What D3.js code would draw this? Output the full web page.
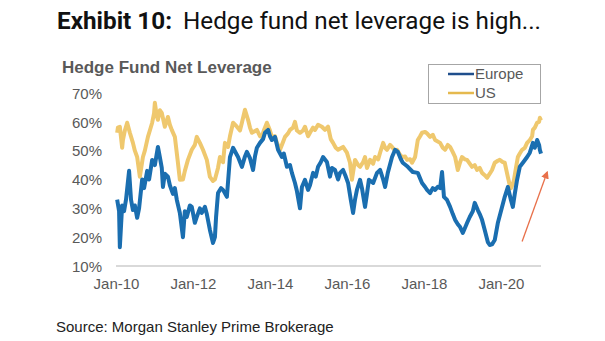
<!DOCTYPE html>
<html>
<head>
<meta charset="utf-8">
<script src="https://cdn.jsdelivr.net/npm/d3@7"></script>
<style>
    body { margin: 0; background: #fff; }
    svg { display: block; }
</style>
</head>
<body>
<div id="chart"></div>
<script>
var WIDTH = 605;
var HEIGHT = 341;

// Series: time as decimal years, values in percent.
var europeTimes = [
    2010.03, 2010.08, 2010.10, 2010.16, 2010.21, 2010.26, 2010.34, 2010.39, 2010.44, 2010.49,
    2010.55, 2010.60, 2010.68, 2010.73, 2010.81, 2010.86, 2010.94, 2011.01, 2011.09, 2011.14,
    2011.19, 2011.22, 2011.27, 2011.35, 2011.40, 2011.48, 2011.53, 2011.58, 2011.66, 2011.74,
    2011.79, 2011.84, 2011.92, 2011.97, 2012.05, 2012.10, 2012.18, 2012.23, 2012.31, 2012.36,
    2012.44, 2012.52, 2012.57, 2012.60, 2012.65, 2012.73, 2012.78, 2012.88, 2012.96, 2013.04,
    2013.12, 2013.17, 2013.27, 2013.35, 2013.40, 2013.48, 2013.56, 2013.61, 2013.66, 2013.74,
    2013.82, 2013.87, 2013.95, 2014.00, 2014.05, 2014.13, 2014.21, 2014.31, 2014.36, 2014.44,
    2014.52, 2014.57, 2014.65, 2014.70, 2014.78, 2014.83, 2014.91, 2014.99, 2015.04, 2015.12,
    2015.19, 2015.25, 2015.32, 2015.38, 2015.48, 2015.56, 2015.61, 2015.69, 2015.77, 2015.82,
    2015.90, 2015.97, 2016.03, 2016.10, 2016.16, 2016.21, 2016.26, 2016.34, 2016.39, 2016.47,
    2016.52, 2016.57, 2016.68, 2016.78, 2016.86, 2016.94, 2016.99, 2017.06, 2017.17, 2017.25,
    2017.32, 2017.40, 2017.45, 2017.58, 2017.71, 2017.84, 2017.95, 2018.03, 2018.08, 2018.16,
    2018.23, 2018.29, 2018.36, 2018.42, 2018.47, 2018.52, 2018.60, 2018.68, 2018.75, 2018.81,
    2018.88, 2018.94, 2019.01, 2019.06, 2019.12, 2019.19, 2019.27, 2019.32, 2019.40, 2019.45,
    2019.51, 2019.58, 2019.66, 2019.71, 2019.77, 2019.84, 2019.92, 2020.03, 2020.10, 2020.18,
    2020.26, 2020.31, 2020.36, 2020.42, 2020.49, 2020.57, 2020.68, 2020.75, 2020.83, 2020.88,
    2020.94, 2020.99, 2021.01, 2021.04
];
var europeValues = [
    33, 29, 16.5, 31, 29, 33, 43, 33, 29.4, 31,
    26.7, 30, 40, 37, 43, 40, 46.8, 45, 51.3, 47.8,
    44, 37.4, 42, 41, 38, 35, 37, 33, 28.4, 20,
    29, 27, 31, 30.5, 25, 27, 30, 28.4, 30.5, 28,
    22.5, 18, 20, 27, 35.3, 37, 36.4, 34, 47.8, 51,
    49, 47.8, 44.4, 48, 49.6, 47.4, 43.3, 48, 51, 52.7,
    54, 56.2, 57.2, 55, 53.7, 54.8, 50.3, 47.8, 49, 44.4,
    45, 42.3, 38.8, 36, 30, 37.4, 39.9, 36.4, 38, 42.3,
    41, 44.4, 46, 47.8, 46.1, 41, 44, 43.3, 40, 42.3,
    43.3, 41, 38.8, 33, 28.4, 33, 36.4, 39.9, 37, 30.5,
    35, 39.9, 38.8, 42.3, 43.3, 40, 37.4, 42.3, 47.8, 50.3,
    49.6, 47, 45.8, 44.4, 42.6, 42.3, 38.8, 37.4, 36.4, 35.3,
    37, 36.4, 37.5, 37, 42.6, 34, 32.9, 30.5, 28, 26,
    24.5, 23.5, 21.5, 23, 24.9, 27, 29, 31.9, 29.4, 28,
    26, 22.5, 18.3, 17.3, 17.5, 19, 24.9, 30.5, 34, 37.4,
    32.9, 30.5, 35, 39.9, 44.4, 45.8, 47.8, 49.3, 52.7, 51,
    53.7, 52, 50.3, 49
];

var usTimes = [
    2010.03, 2010.05, 2010.10, 2010.16, 2010.18, 2010.23, 2010.29, 2010.36, 2010.44, 2010.49,
    2010.55, 2010.62, 2010.70, 2010.75, 2010.83, 2010.88, 2010.94, 2010.99, 2011.01, 2011.06,
    2011.09, 2011.14, 2011.19, 2011.27, 2011.35, 2011.40, 2011.45, 2011.53, 2011.61, 2011.66,
    2011.74, 2011.79, 2011.87, 2011.97, 2012.05, 2012.10, 2012.18, 2012.26, 2012.36, 2012.44,
    2012.52, 2012.57, 2012.65, 2012.70, 2012.78, 2012.83, 2012.91, 2012.96, 2013.04, 2013.14,
    2013.22, 2013.27, 2013.35, 2013.43, 2013.48, 2013.53, 2013.66, 2013.74, 2013.79, 2013.84,
    2013.92, 2014.00, 2014.05, 2014.13, 2014.18, 2014.26, 2014.34, 2014.39, 2014.47, 2014.52,
    2014.60, 2014.65, 2014.70, 2014.78, 2014.86, 2014.91, 2014.99, 2015.04, 2015.12, 2015.17,
    2015.25, 2015.35, 2015.43, 2015.51, 2015.58, 2015.64, 2015.71, 2015.77, 2015.90, 2016.00,
    2016.08, 2016.13, 2016.21, 2016.29, 2016.34, 2016.42, 2016.47, 2016.52, 2016.60, 2016.68,
    2016.73, 2016.81, 2016.86, 2016.94, 2016.99, 2017.04, 2017.12, 2017.17, 2017.25, 2017.30,
    2017.38, 2017.43, 2017.51, 2017.56, 2017.64, 2017.69, 2017.77, 2017.84, 2017.90, 2017.95,
    2018.03, 2018.08, 2018.16, 2018.23, 2018.29, 2018.42, 2018.49, 2018.55, 2018.62, 2018.68,
    2018.75, 2018.81, 2018.88, 2018.94, 2018.99, 2019.06, 2019.12, 2019.19, 2019.25, 2019.32,
    2019.38, 2019.45, 2019.51, 2019.58, 2019.64, 2019.71, 2019.77, 2019.84, 2019.92, 2019.97,
    2020.05, 2020.10, 2020.18, 2020.23, 2020.26, 2020.31, 2020.34, 2020.39, 2020.44, 2020.49,
    2020.55, 2020.62, 2020.68, 2020.75, 2020.81, 2020.83, 2020.88, 2020.94, 2020.99, 2021.01,
    2021.04
];
var usValues = [
    56.2, 58, 58.3, 51, 53.7, 57, 59.7, 56.2, 52.7, 50,
    47.8, 41, 47.8, 50, 54.8, 57, 59.7, 63, 66.6, 62,
    60.7, 64, 63.1, 58.3, 61.7, 59, 57.2, 54.8, 45.8, 39.9,
    40, 43, 46.8, 50.3, 52, 54.8, 52.7, 50.3, 46.8, 40.9,
    39.5, 40, 44, 47.8, 46, 52.7, 51.3, 55, 59.7, 58.3,
    57, 59.7, 64.2, 60.7, 58, 56.2, 57.2, 55, 54.8, 57,
    59.7, 57, 54.8, 55, 52.7, 50.3, 53, 54.8, 56, 57.2,
    58, 60, 57, 56.2, 57, 58.3, 55, 56.2, 58, 57.2,
    59, 58.3, 57.2, 58.3, 54, 52.7, 51, 50.3, 51.3, 49.3,
    45.8, 39.9, 46.8, 45, 44.4, 46, 47.8, 44, 46.8, 45.5,
    47.8, 47, 49.3, 52.7, 51, 50.3, 52, 51.3, 50, 50.3,
    48.5, 47.8, 48, 46.8, 47, 45.8, 47.8, 53.7, 55, 56.2,
    56.5, 56, 54.8, 55.5, 53.7, 52.7, 51, 50.3, 52, 51.3,
    49.5, 47.8, 43.3, 46, 47.8, 47, 46.8, 45.5, 44.4, 45,
    43.3, 44, 42.3, 41.5, 40.6, 42, 43.3, 45.8, 46.5, 46.8,
    46, 45.8, 40.9, 38, 37, 38.5, 39.9, 44, 47.8, 49,
    50.3, 51, 52.7, 53.7, 55, 57.2, 58, 59.7, 60, 61.4,
    60.5
];

var seriesNames = ['Europe', 'US'];
var yTickValues = [10, 20, 30, 40, 50, 60, 70];
var xTickYears = [2010, 2012, 2014, 2016, 2018, 2020];

var EUROPE_COLOR = '#1a6eb0';
var US_COLOR = '#efc86e';
var TEXT_GREY = '#595959';

/**
 * Turns a decimal year (e.g. 2013.5) into a Date.
 * @param  {number} t
 * @return {Date}
 */
var toDate = function toDate(t) {
    var year = Math.floor(t);
    var start = new Date(year, 0, 1);
    var end = new Date(year + 1, 0, 1);
    return new Date(start.getTime() + (t - year) * (end - start));
};

var zip = function zip(times, values) {
    return times.map(function(t, i) {
        return { date: toDate(t), value: values[i] };
    });
};

var drawChart = function drawChart(el) {
    var svg = d3.select(el)
        .html('')
        .append('svg')
        .attr('width', WIDTH)
        .attr('height', HEIGHT);

    // Titles
    var title = svg.append('g')
        .style('font-family', 'Roboto, sans-serif')
        .style('font-size', '23px')
        .style('fill', '#111');
    title.append('text')
        .attr('x', 57)
        .attr('y', 29)
        .attr('textLength', 115)
        .attr('lengthAdjust', 'spacingAndGlyphs')
        .style('font-weight', 'bold')
        .text('Exhibit 10:');
    title.append('text')
        .attr('x', 183)
        .attr('y', 29)
        .attr('textLength', 358)
        .attr('lengthAdjust', 'spacingAndGlyphs')
        .style('font-size', '24px')
        .text('Hedge fund net leverage is high...');

    svg.append('text')
        .attr('x', 62)
        .attr('y', 73)
        .style('font-family', '"Liberation Sans", Arial, sans-serif')
        .style('font-size', '17px')
        .style('font-weight', 'bold')
        .style('fill', TEXT_GREY)
        .text('Hedge Fund Net Leverage');

    // Scales
    var x = d3.scaleTime()
        .domain([toDate(2010), toDate(2021.04)])
        .range([116, 541]);

    var y = d3.scaleLinear()
        .domain([10, 70])
        .range([266, 93]);

    // Y axis labels, no line
    var yAxis = d3.axisLeft(y)
        .tickValues(yTickValues)
        .tickSize(0)
        .tickPadding(0)
        .tickFormat(function(d) { return d + '%'; });

    var yg = svg.append('g')
        .attr('transform', 'translate(102,0)')
        .call(yAxis);
    yg.select('.domain').remove();
    yg.selectAll('text')
        .attr('dy', '0.35em')
        .style('font-family', '"Liberation Sans", Arial, sans-serif')
        .style('font-size', '15px')
        .style('fill', TEXT_GREY);

    // X axis: grey baseline with year labels
    var xAxis = d3.axisBottom(x)
        .tickValues(xTickYears.map(function(yr) { return toDate(yr); }))
        .tickSize(0)
        .tickPadding(12)
        .tickFormat(d3.timeFormat('Jan-%y'));

    var xg = svg.append('g')
        .attr('transform', 'translate(0,266)')
        .call(xAxis);
    xg.select('.domain')
        .attr('d', 'M116,0H541')
        .style('stroke', '#d9d9d9')
        .style('stroke-width', 2);
    xg.selectAll('text')
        .style('font-family', '"Liberation Sans", Arial, sans-serif')
        .style('font-size', '15px')
        .style('fill', TEXT_GREY);

    // Lines
    var line = d3.line()
        .x(function(d) { return x(d.date); })
        .y(function(d) { return y(d.value); });

    svg.append('path')
        .datum(zip(usTimes, usValues))
        .attr('d', line)
        .style('fill', 'none')
        .style('stroke', US_COLOR)
        .style('stroke-width', 4)
        .style('stroke-linejoin', 'round');

    svg.append('path')
        .datum(zip(europeTimes, europeValues))
        .attr('d', line)
        .style('fill', 'none')
        .style('stroke', EUROPE_COLOR)
        .style('stroke-width', 4)
        .style('stroke-linejoin', 'round');

    // Red annotation arrow
    var defs = svg.append('defs');
    defs.append('marker')
        .attr('id', 'arrowhead')
        .attr('viewBox', '0 0 10 10')
        .attr('refX', 8)
        .attr('refY', 5)
        .attr('markerWidth', 6)
        .attr('markerHeight', 6)
        .attr('orient', 'auto')
        .append('path')
        .attr('d', 'M0,0L10,5L0,10z')
        .style('fill', '#e8704a');

    svg.append('line')
        .attr('x1', x(toDate(2020.55)))
        .attr('y1', y(18.5))
        .attr('x2', x(toDate(2021.2)))
        .attr('y2', y(42.5))
        .style('stroke', '#e8704a')
        .style('stroke-width', 1.3)
        .attr('marker-end', 'url(#arrowhead)');

    // Legend
    var legend = svg.append('g').attr('transform', 'translate(428,64)');
    legend.append('rect')
        .attr('x', 0.5)
        .attr('y', 0.5)
        .attr('width', 112)
        .attr('height', 39)
        .style('fill', '#fff')
        .style('stroke', '#a6a6a6');

    var legendColors = ['#1f4e8c', '#e5b94e'];
    seriesNames.forEach(function(name, i) {
        var ly = 10 + i * 19;
        legend.append('line')
            .attr('x1', 20)
            .attr('x2', 46)
            .attr('y1', ly)
            .attr('y2', ly)
            .style('stroke', legendColors[i])
            .style('stroke-width', 2.5);
        legend.append('text')
            .attr('x', 47)
            .attr('y', ly)
            .attr('dy', '0.35em')
            .style('font-family', '"Liberation Sans", Arial, sans-serif')
            .style('font-size', '15px')
            .style('fill', TEXT_GREY)
            .text(name);
    });

    // Source note
    svg.append('text')
        .attr('x', 56)
        .attr('y', 332)
        .style('font-family', '"Liberation Sans", Arial, sans-serif')
        .style('font-size', '15px')
        .style('fill', '#222')
        .text('Source: Morgan Stanley Prime Brokerage');
};

drawChart('#chart');
</script>
</body>
</html>
